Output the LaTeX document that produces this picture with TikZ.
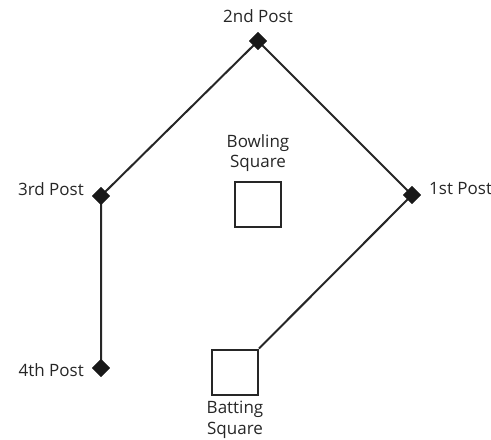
\documentclass[tikz,border=0pt]{standalone}
\usepackage{fontspec}
\setmainfont{Open Sans}
\usetikzlibrary{shapes.geometric}
\begin{document}
\begin{tikzpicture}[x=1pt,y=-1pt,
  post/.style={diamond,fill=black!90,inner sep=0pt,minimum width=18pt,minimum height=18pt},
  base/.style={draw=black!85,line width=2pt,minimum width=46pt,minimum height=45pt,inner sep=0pt},
  lab/.style={font=\fontsize{17}{20.5}\selectfont,text=black!85,inner sep=0pt,align=center},
  conn/.style={draw=black!85,line width=2pt}]
\useasboundingbox (0,0) rectangle (491,440);
\node[post] (p2) at (258,41) {};
\node[post] (p1) at (412,195) {};
\node[post] (p3) at (101,196) {};
\node[post] (p4) at (101,368) {};
\node[base] (bowl) at (258,204) {};
\node[base] (bat) at (235,372) {};
\draw[conn] (p4.center) -- (p3.center) -- (p2.center) -- (p1.center) -- (bat.north east);
\node[post] at (p2) {};
\node[post] at (p1) {};
\node[post] at (p3) {};
\node[post] at (p4) {};
\node[lab] (l2) at (258,16) {2nd Post};
\node[lab,anchor=west] (l1) at (429,189) {1st Post};
\node[lab,anchor=east] (l3) at (84,189) {3rd Post};
\node[lab,anchor=east] (l4) at (84,370) {4th Post};
\node[lab] (lbowl) at (258,153) {Bowling\\Square};
\node[lab] (lbat) at (235,420) {Batting\\Square};
\end{tikzpicture}
\end{document}
